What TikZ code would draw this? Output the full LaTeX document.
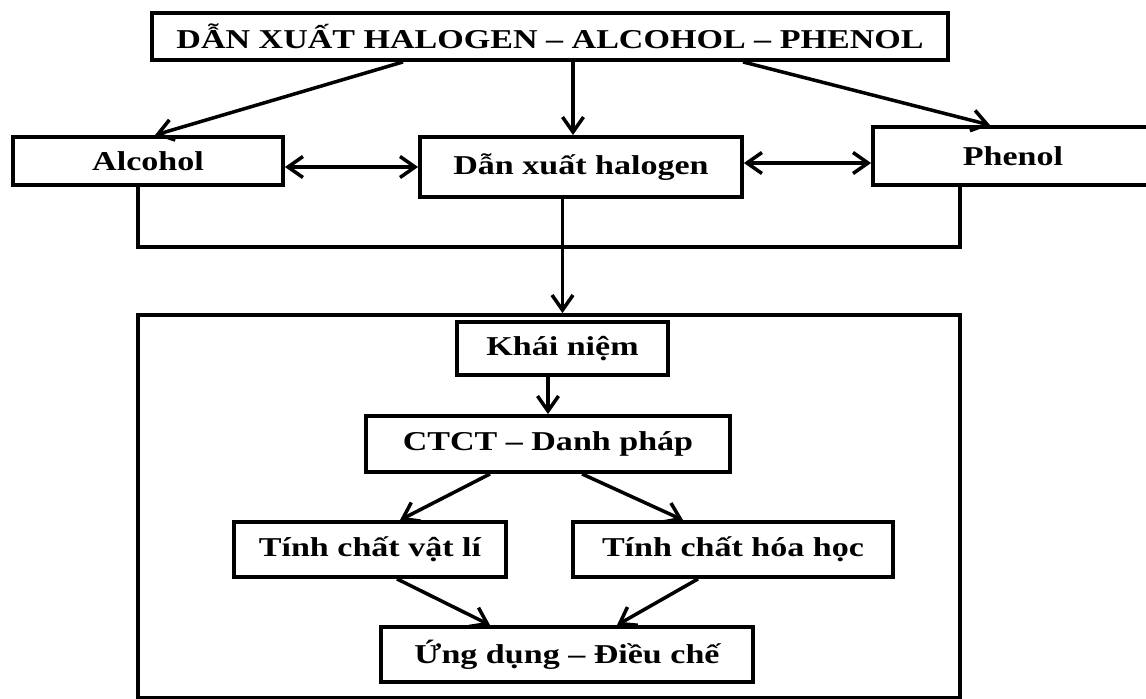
\documentclass[tikz,border=0pt]{standalone}
\usepackage{fontspec}
\setmainfont{Liberation Serif}
\newfontfamily\boxfont[FakeStretch=1.25]{Liberation Serif}
\usetikzlibrary{positioning, arrows.meta}
\tikzset{
 block/.style = {
    rectangle, draw, line width=2.2pt,
    font=\boxfont\bfseries\fontsize{15.5}{18}\selectfont,
    text centered,
    inner sep=0pt},
 frame/.style = {
    rectangle, draw, line width=2.2pt, inner sep=0pt},
 line/.style = {
    draw, line width=2pt, -{Straight Barb[length=0.3cm,width=0.42cm]}},
 dline/.style = {
    draw, line width=2pt, {Straight Barb[length=0.3cm,width=0.42cm]}-{Straight Barb[length=0.3cm,width=0.42cm]}},
 link/.style = {
    draw, line width=2pt},
}

\begin{document}
\begin{tikzpicture}[x=0.02cm, y=-0.02cm]
    \clip (0,0) rectangle (1146,699);

    % Place nodes
    \node [block, minimum width=15.92cm, minimum height=0.94cm] (top) at (550,36.5) {DẪN XUẤT HALOGEN – ALCOHOL – PHENOL};
    \node [block, minimum width=5.4cm,  minimum height=0.96cm] (alcohol) at (148,161) {Alcohol};
    \node [block, minimum width=6.44cm, minimum height=1.2cm]  (halogen) at (581,167) {Dẫn xuất halogen};
    \node [block, minimum width=5.6cm,  minimum height=1.16cm] (phenol)  at (1013,156) {Phenol};

    \node [frame, minimum width=16.44cm, minimum height=7.66cm] (frame) at (549,506.5) {};
    \node [block, minimum width=4.22cm, minimum height=1.06cm] (khainiem) at (562.5,348.5) {Khái niệm};
    \node [block, minimum width=7.28cm, minimum height=1.12cm] (ctct)     at (548,444) {CTCT – Danh pháp};
    \node [block, minimum width=5.44cm, minimum height=1.1cm]  (vatli)    at (370,549.5) {Tính chất vật lí};
    \node [block, minimum width=6.4cm,  minimum height=1.1cm]  (hoahoc)   at (733,549.5) {Tính chất hóa học};
    \node [block, minimum width=7.44cm, minimum height=1.1cm]  (ungdung)  at (567,654.5) {Ứng dụng – Điều chế};

    % top level
    \path [line] ([xshift=-2.94cm]top.south) -- ([xshift=0.14cm]alcohol.north);
    \path [line] ([xshift=-0.16cm]halogen.north |- top.south) -- ([xshift=-0.16cm]halogen.north);
    \path [line] ([xshift=3.86cm]top.south) -- ([xshift=-0.46cm]phenol.north);
    \path [dline] (alcohol.east |- halogen.west) -- (halogen.west);
    \path [dline] ([yshift=0.08cm]halogen.east) -- ([yshift=0.08cm]halogen.east -| phenol.west);
    \path [link] ([xshift=-0.2cm]alcohol.south) -- ++(0,60) -| ([xshift=-1.06cm]phenol.south);
    \path [line] (halogen.south -| khainiem.north) -- (khainiem.north |- frame.north);

    % inside the frame
    \path [line] (ctct.north |- khainiem.south) -- (ctct.north);
    \path [line] ([xshift=-1.16cm]ctct.south) -- ([xshift=0.6cm]vatli.north);
    \path [line] ([xshift=0.68cm]ctct.south) -- ([xshift=-1.0cm]hoahoc.north);
    \path [line] ([xshift=0.54cm]vatli.south) -- ([xshift=-1.54cm]ungdung.north);
    \path [line] ([xshift=-0.7cm]hoahoc.south) -- ([xshift=1.0cm]ungdung.north);

\end{tikzpicture}
\end{document}
